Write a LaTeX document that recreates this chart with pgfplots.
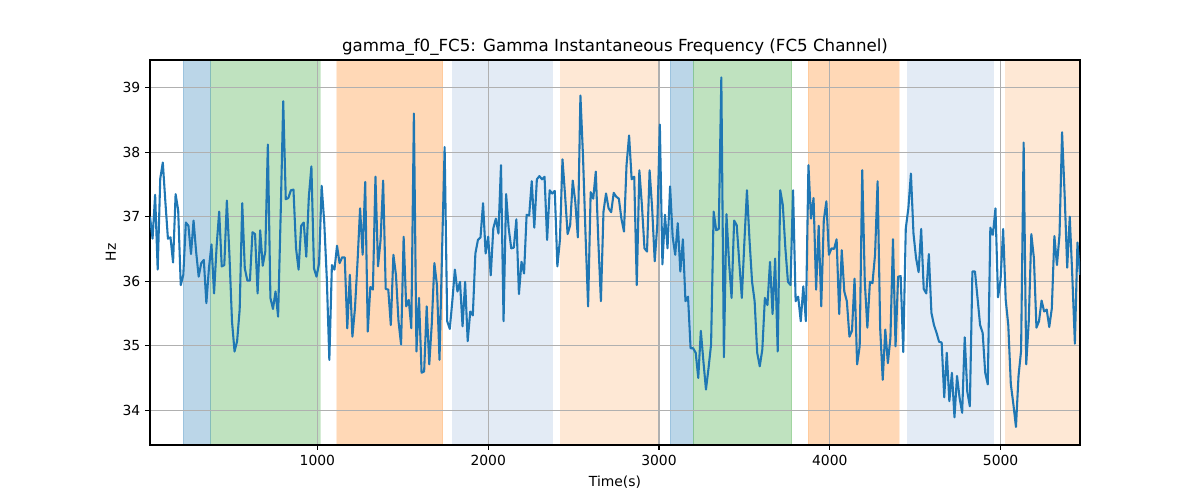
\documentclass[border=0pt]{standalone}
\usepackage{pgfplots}
\pgfplotsset{compat=1.18}
\usepackage{pgfplotstable}
\usepackage{fontspec}
\setmainfont{DejaVu Sans}
\definecolor{tabblue}{HTML}{1F77B4}
\definecolor{tabgreen}{HTML}{2CA02C}
\definecolor{taborange}{HTML}{FF7F0E}
\definecolor{lblue}{HTML}{E3EBF5}
\definecolor{lorange}{HTML}{FEE8D5}
\definecolor{gridgray}{HTML}{B0B0B0}
\pgfplotstableread{
x y
20 37.00
35 36.66
50 37.34
65 36.18
80 37.59
95 37.84
110 37.23
125 36.66
140 36.68
155 36.29
170 37.35
185 37.10
200 35.94
215 36.10
230 36.91
245 36.86
260 36.42
275 36.94
290 36.46
305 36.07
320 36.28
335 36.33
350 35.66
365 36.20
380 36.57
395 35.81
410 36.54
425 37.08
440 36.23
455 36.25
470 37.25
485 36.41
500 35.38
515 34.91
530 35.07
545 35.56
560 37.21
575 36.20
590 36.01
605 36.01
620 36.76
635 36.73
650 35.81
665 36.79
680 36.24
695 36.46
710 38.12
725 35.74
740 35.57
755 35.84
770 35.45
785 37.03
800 38.79
815 37.27
830 37.29
845 37.41
860 37.42
875 36.51
890 36.18
905 36.86
920 36.91
935 36.38
950 37.31
965 37.78
980 36.20
995 36.07
1010 36.28
1025 37.48
1040 36.92
1055 36.05
1070 34.78
1085 36.25
1100 36.18
1115 36.55
1130 36.28
1145 36.37
1160 36.37
1175 35.27
1190 36.10
1205 35.14
1220 35.58
1235 36.30
1250 37.13
1265 36.41
1280 37.54
1295 35.22
1310 35.91
1325 35.87
1340 37.62
1355 36.23
1370 36.64
1385 37.56
1400 35.88
1415 35.87
1430 35.32
1445 36.41
1460 36.10
1475 35.38
1490 35.02
1505 36.69
1520 35.61
1535 35.71
1550 35.27
1565 38.60
1580 34.91
1595 35.74
1610 34.58
1625 34.60
1640 35.61
1655 34.71
1670 35.35
1685 36.28
1700 35.94
1715 34.78
1730 36.46
1745 38.08
1760 35.38
1775 35.26
1790 35.69
1805 36.18
1820 35.84
1835 35.99
1850 35.30
1865 35.99
1880 35.07
1895 35.53
1910 35.47
1925 36.43
1940 36.64
1955 36.68
1970 37.21
1985 36.43
2000 36.69
2015 36.09
2030 36.82
2045 36.97
2060 36.74
2075 37.80
2090 35.38
2105 37.35
2120 36.82
2135 36.51
2150 36.52
2165 36.96
2180 35.80
2195 36.30
2210 36.12
2225 37.03
2240 37.02
2255 37.55
2270 36.83
2285 37.58
2300 37.63
2315 37.58
2330 37.62
2345 36.64
2360 37.41
2375 37.36
2390 37.40
2405 36.23
2420 36.64
2435 37.89
2450 37.34
2465 36.73
2480 36.87
2495 37.56
2510 37.23
2525 36.68
2540 38.88
2555 37.95
2570 36.72
2585 35.61
2600 37.38
2615 37.28
2630 37.70
2645 36.61
2660 35.69
2675 37.08
2690 37.36
2705 37.13
2720 37.07
2735 37.37
2750 37.31
2765 37.28
2780 36.97
2795 36.77
2810 37.80
2825 38.26
2840 37.58
2855 37.62
2870 35.94
2885 37.72
2900 37.18
2915 36.51
2930 36.46
2945 37.72
2960 37.13
2975 36.31
2990 36.87
3005 38.43
3020 36.26
3035 37.03
3050 36.51
3065 37.47
3080 36.69
3095 36.41
3110 36.90
3125 36.15
3140 36.65
3155 35.69
3170 35.76
3185 34.96
3200 34.96
3215 34.89
3230 34.50
3245 35.23
3260 34.76
3275 34.32
3290 34.65
3305 35.02
3320 37.08
3335 36.79
3350 36.81
3365 39.16
3380 34.82
3395 37.04
3410 36.30
3425 35.74
3440 36.94
3455 36.87
3470 36.30
3485 35.74
3500 36.61
3515 37.41
3530 36.64
3545 35.99
3560 35.69
3575 34.89
3590 34.68
3605 34.94
3620 35.74
3635 35.63
3650 36.30
3665 35.49
3680 36.35
3695 34.91
3710 37.41
3725 37.18
3740 36.51
3755 35.99
3770 35.94
3785 37.41
3800 35.69
3815 35.76
3830 35.38
3845 35.92
3860 35.38
3875 37.80
3890 36.97
3905 37.29
3920 35.87
3935 36.86
3950 35.61
3965 36.95
3980 37.24
3995 36.41
4010 36.51
4025 36.50
4040 36.65
4055 35.49
4070 36.48
4085 35.84
4100 35.69
4115 35.14
4130 35.23
4145 36.04
4160 34.71
4175 34.99
4190 37.72
4205 35.99
4220 35.28
4235 35.99
4250 35.97
4265 36.41
4280 37.55
4295 35.27
4310 34.47
4325 35.25
4340 34.73
4355 35.12
4370 36.65
4385 34.99
4400 36.07
4415 36.08
4430 34.90
4445 36.82
4460 37.13
4475 37.67
4490 36.74
4505 36.36
4520 36.14
4535 36.81
4550 35.88
4565 35.81
4580 36.42
4595 35.51
4610 35.32
4625 35.20
4640 35.06
4655 35.05
4670 34.20
4685 34.89
4700 34.14
4715 34.58
4730 33.89
4745 34.53
4760 34.19
4775 33.96
4790 35.13
4805 34.29
4820 34.06
4835 36.15
4850 36.15
4865 35.74
4880 35.32
4895 35.20
4910 34.58
4925 34.40
4940 36.83
4955 36.72
4970 37.13
4985 35.75
5000 36.02
5015 36.81
5030 35.71
5045 35.32
5060 34.40
5075 34.09
5090 33.74
5105 34.53
5120 34.92
5135 38.15
5150 34.71
5165 35.38
5180 36.73
5195 36.36
5210 35.28
5225 35.38
5240 35.70
5255 35.53
5270 35.56
5285 35.29
5300 35.58
5315 36.70
5330 36.25
5345 36.72
5360 38.31
5375 37.34
5390 36.21
5405 37.00
5420 36.07
5435 35.03
5450 36.60
5465 36.10
}\freqdata
\begin{document}
\begin{tikzpicture}
\begin{axis}[
  set layers,
  scale only axis,
  width=669.6pt, height=277.2pt,
  xmin=20, xmax=5465, ymin=33.46, ymax=39.43,
  xtick={1000,2000,3000,4000,5000},
  ytick={34,35,36,37,38,39},
  grid=major,
  grid style={draw=gridgray, line width=0.8pt},
  major grid style={draw=gridgray, line width=0.8pt},
  axis line style={line width=0.8pt},
  tick style={black, line width=0.8pt},
  tick align=outside,
  major tick length=3.5pt,
  xtick pos=bottom, ytick pos=left,
  /pgf/number format/assume math mode=true,
  /pgf/number format/1000 sep={},
  tick label style={font=\fontsize{10}{12}\selectfont},
  label style={font=\fontsize{10}{12}\selectfont},
  xlabel={Time(s)},
  ylabel={Hz},
  xlabel style={yshift=-1pt},
  ylabel style={yshift=-2pt},
  title={gamma\_f0\_FC5: Gamma Instantaneous Frequency (FC5 Channel)},
  title style={font=\fontsize{12}{14}\selectfont, yshift=-6pt},
]
\addplot[on layer=axis background, fill=tabblue, fill opacity=0.3, draw=tabblue, draw opacity=0.2, line width=0.6pt] coordinates {(213,33.46) (213,39.43) (375,39.43) (375,33.46)} -- cycle;
\addplot[on layer=axis background, fill=tabgreen, fill opacity=0.3, draw=tabgreen, draw opacity=0.2, line width=0.6pt] coordinates {(375,33.46) (375,39.43) (1015,39.43) (1015,33.46)} -- cycle;
\addplot[on layer=axis background, fill=taborange, fill opacity=0.3, draw=taborange, draw opacity=0.15, line width=0.6pt] coordinates {(1113,33.46) (1113,39.43) (1734,39.43) (1734,33.46)} -- cycle;
\addplot[on layer=axis background, fill=lblue, draw=none] coordinates {(1788,33.46) (1788,39.43) (2378,39.43) (2378,33.46)} -- cycle;
\addplot[on layer=axis background, fill=lorange, draw=none] coordinates {(2420,33.46) (2420,39.43) (2996,39.43) (2996,33.46)} -- cycle;
\addplot[on layer=axis background, fill=tabblue, fill opacity=0.3, draw=tabblue, draw opacity=0.2, line width=0.6pt] coordinates {(3064,33.46) (3064,39.43) (3201,39.43) (3201,33.46)} -- cycle;
\addplot[on layer=axis background, fill=tabgreen, fill opacity=0.3, draw=tabgreen, draw opacity=0.2, line width=0.6pt] coordinates {(3201,33.46) (3201,39.43) (3777,39.43) (3777,33.46)} -- cycle;
\addplot[on layer=axis background, fill=taborange, fill opacity=0.3, draw=taborange, draw opacity=0.15, line width=0.6pt] coordinates {(3874,33.46) (3874,39.43) (4405,39.43) (4405,33.46)} -- cycle;
\addplot[on layer=axis background, fill=lblue, draw=none] coordinates {(4450,33.46) (4450,39.43) (4961,39.43) (4961,33.46)} -- cycle;
\addplot[on layer=axis background, fill=lorange, draw=none] coordinates {(5026,33.46) (5026,39.43) (5465,39.43) (5465,33.46)} -- cycle;
\addplot[tabblue, line width=1.5pt, mark=none, line join=round] table[x=x, y=y] {\freqdata};
\end{axis}
\path[use as bounding box] (-108pt,-39.6pt) rectangle (756pt,320.4pt);
\end{tikzpicture}
\end{document}
